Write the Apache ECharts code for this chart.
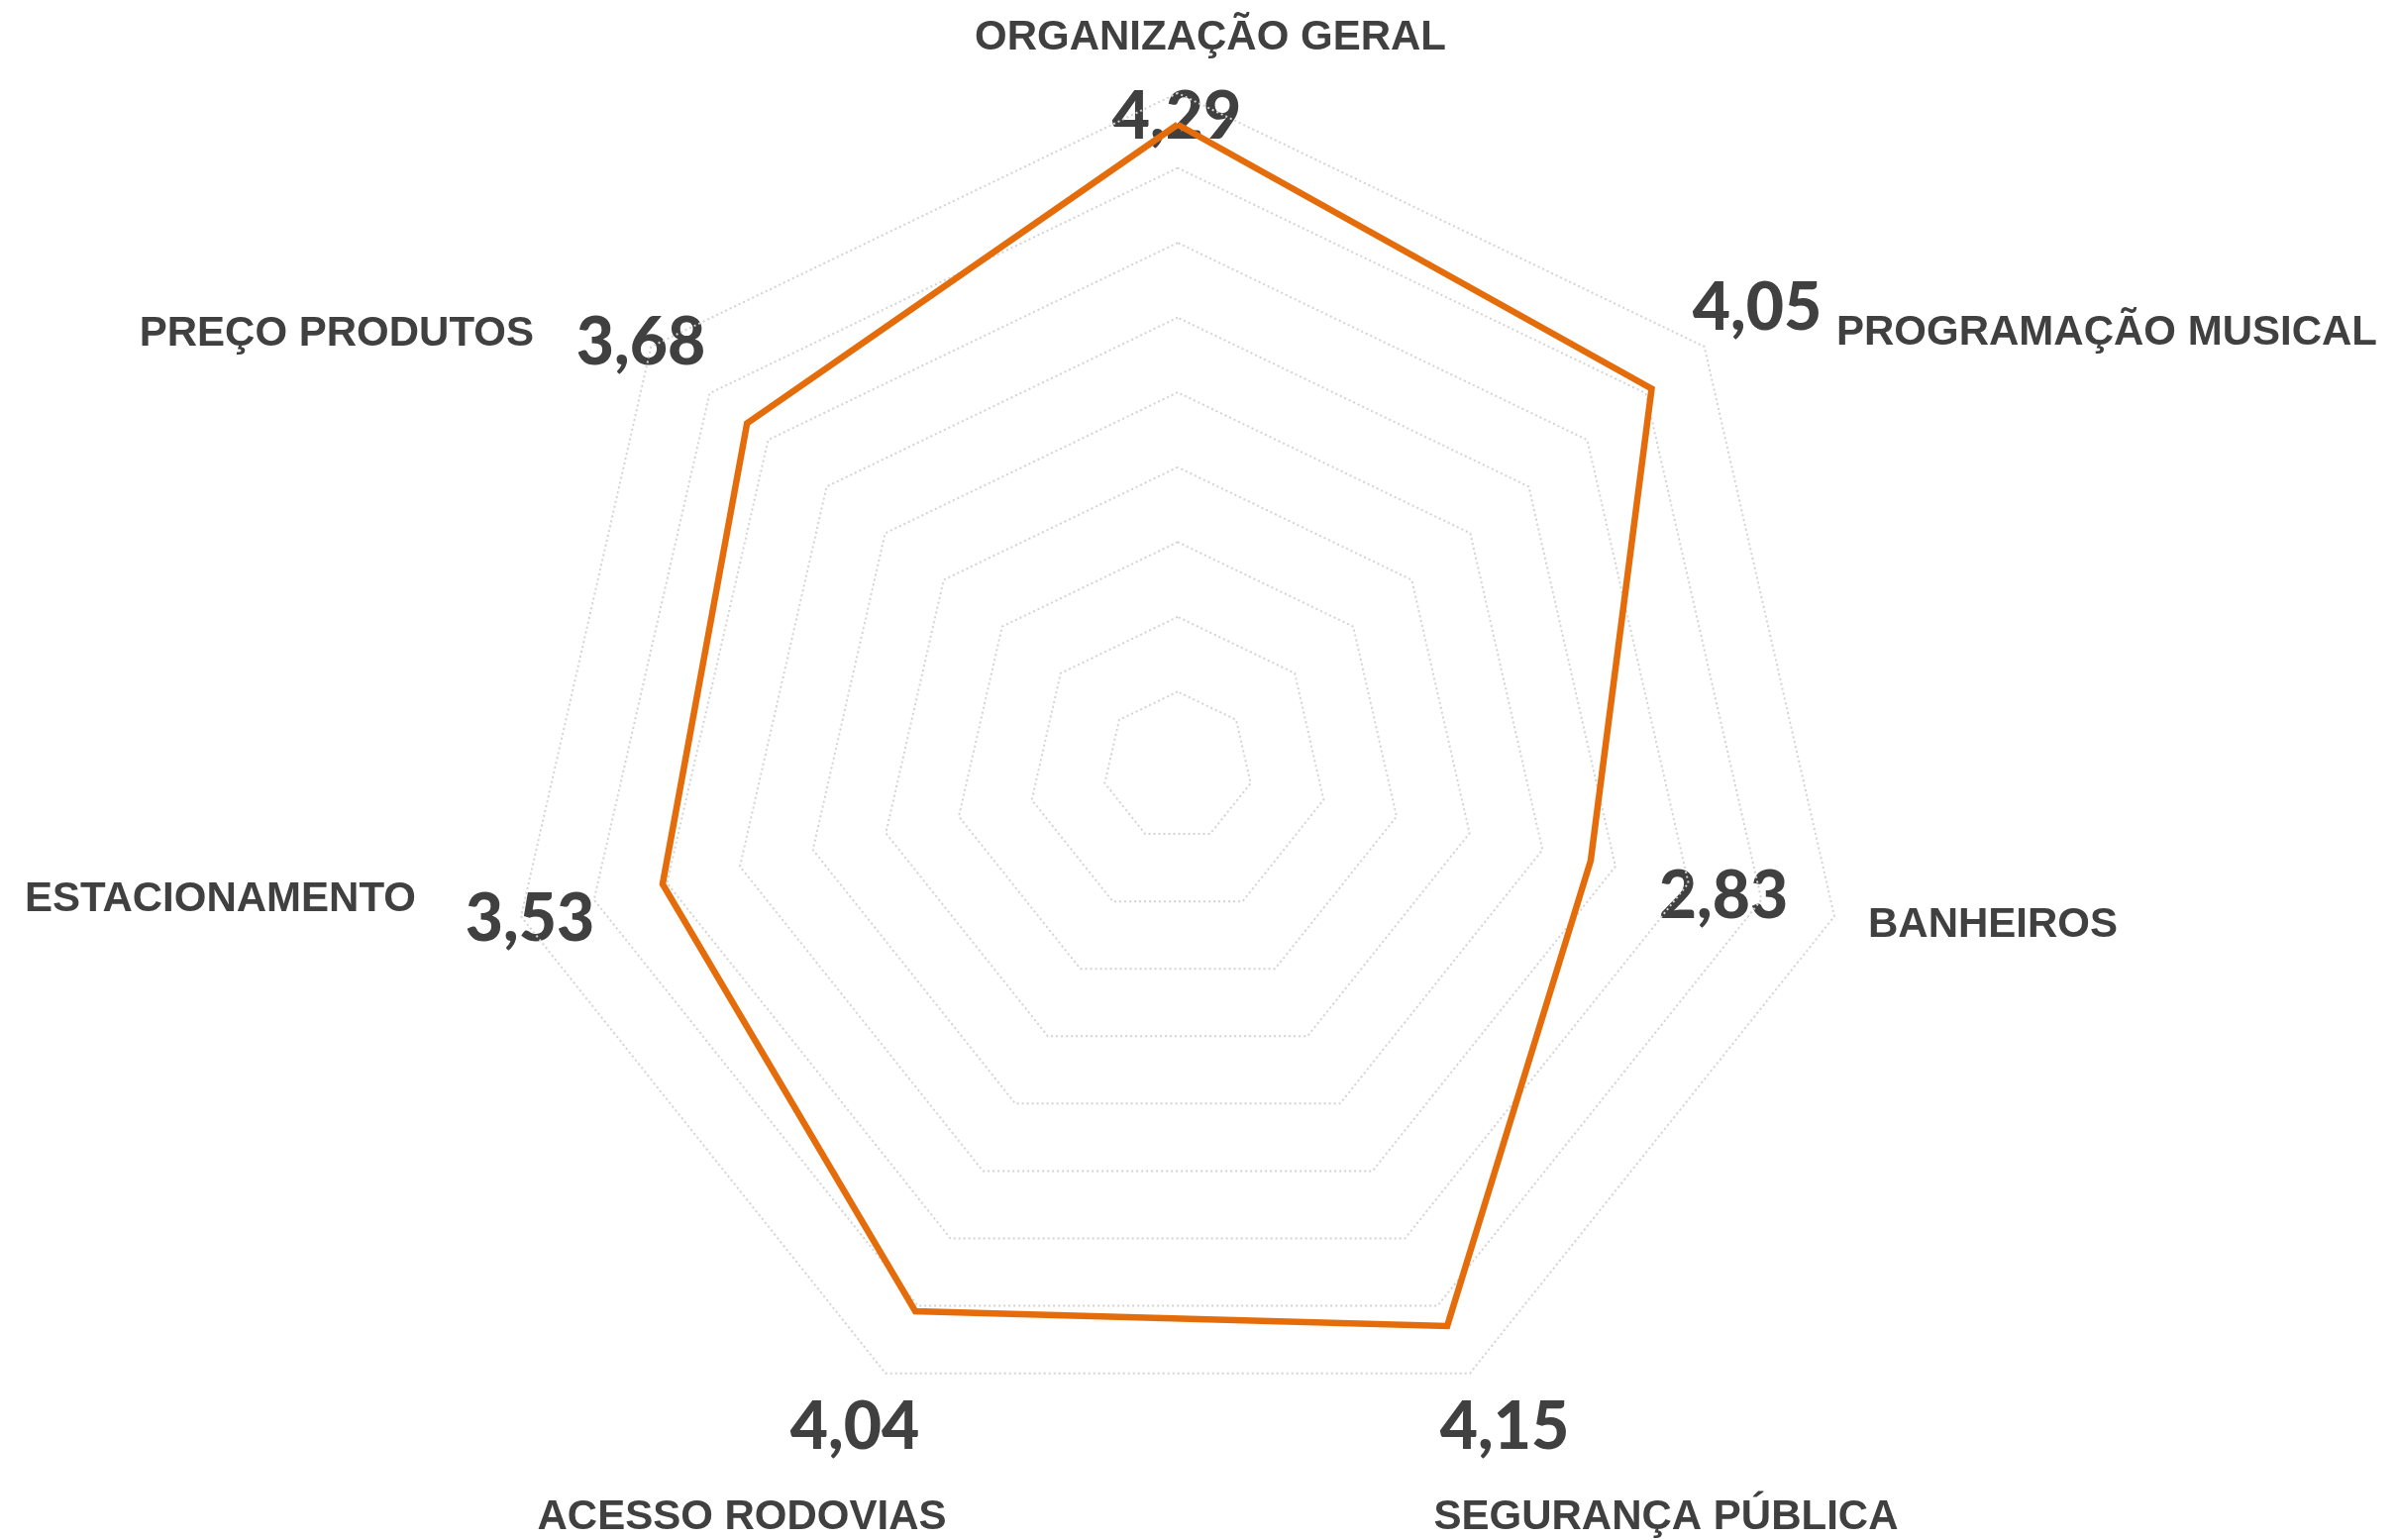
<!DOCTYPE html>
<html>
<head>
<meta charset="utf-8">
<script src="https://cdn.jsdelivr.net/npm/echarts@6/dist/echarts.min.js"></script>
<style>
  html, body { margin: 0; padding: 0; background: #fff; }
  #chart { width: 2420px; height: 1555px; }
</style>
</head>
<body>
<div id="chart"></div>
<script>
// categories clockwise from the top
const categories = [
  "ORGANIZAÇÃO GERAL",
  "PROGRAMAÇÃO MUSICAL",
  "BANHEIROS",
  "SEGURANÇA PÚBLICA",
  "ACESSO RODOVIAS",
  "ESTACIONAMENTO",
  "PREÇO PRODUTOS",
];
const scores = [4.29, 4.05, 2.83, 4.15, 4.04, 3.53, 3.68];
const axisMax = 4.5;
const rings = 9;

// where the text boxes sit (same order as categories)
const nameSpots = [
  [1222, 38, "center"],
  [1854, 336, "left"],
  [1886, 934, "left"],
  [1682, 1532, "center"],
  [749, 1532, "center"],
  [420, 908, "right"],
  [539, 337, "right"],
];
const valueSpots = [
  [1188, 119],
  [1774, 312],
  [1740, 906],
  [1519, 1442],
  [863, 1442],
  [535, 929],
  [647, 347],
];

const textColor = "#404040";
const fmt = (v) => v.toFixed(2).replace(".", ",");

// echarts lays radar indicators out counter-clockwise, so flip the order
const order = [0, 6, 5, 4, 3, 2, 1];

const chart = echarts.init(document.getElementById("chart"));

const labels = [];
categories.forEach((name, i) => {
  labels.push({
    type: "text",
    silent: true,
    style: {
      x: nameSpots[i][0],
      y: nameSpots[i][1],
      text: name,
      align: nameSpots[i][2],
      verticalAlign: "middle",
      fill: textColor,
      font: "bold 42px 'Liberation Sans', Arial, sans-serif",
    },
  });
  labels.push({
    type: "text",
    silent: true,
    style: {
      x: valueSpots[i][0],
      y: valueSpots[i][1],
      text: fmt(scores[i]),
      align: "center",
      verticalAlign: "middle",
      fill: textColor,
      font: "900 66px Lato, 'Open Sans', sans-serif",
    },
  });
});

chart.setOption({
  animation: false,
  radar: {
    center: [1189, 774],
    radius: 680,
    startAngle: 90,
    shape: "polygon",
    splitNumber: rings,
    indicator: order.map((i) => ({ name: categories[i], min: 0, max: axisMax })),
    axisName: { show: false },
    axisLine: { show: false },
    axisTick: { show: false },
    axisLabel: { show: false },
    splitArea: { show: false },
    splitLine: {
      lineStyle: { color: "#d3d3d3", width: 2, type: [2, 3] },
    },
  },
  series: [
    {
      type: "radar",
      silent: true,
      symbol: "none",
      lineStyle: { color: "#E46C0A", width: 6.5, join: "miter" },
      data: [{ value: order.map((i) => scores[i]), name: "Média" }],
    },
  ],
  graphic: labels,
});

window.addEventListener("resize", () => chart.resize());
</script>
</body>
</html>
